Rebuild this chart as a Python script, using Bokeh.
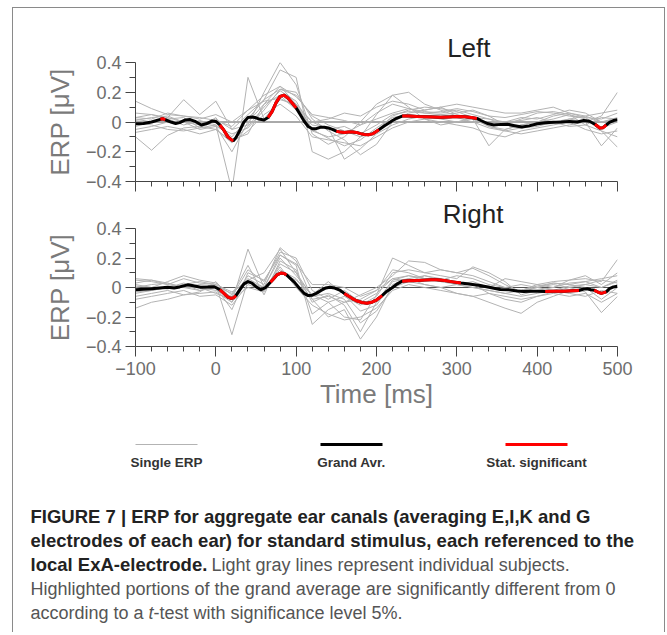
import numpy as np
from bokeh.plotting import figure
from bokeh.models import Range1d, Span, Title, FixedTicker
from bokeh.layouts import column
from bokeh.embed import file_html
from bokeh.resources import INLINE
from bokeh.core.properties import value

# ------------------------------------------------------------------ data
# time base of the single-subject ERPs (ms)
single_t = list(range(-100, 501, 20))

left_single = [
    [0.14, 0.09, 0.05, 0.04, 0.03, 0.01, -0.03, 0.08, 0.18, 0.24, 0.17, 0.05, 0.03, 0.01, -0.02, 0.06, 0.12, 0.09, 0.06, 0.07, 0.09, 0.07, 0.04, 0.03, 0.05, 0.07, 0.06, 0.04, 0.03, 0.02, 0.06],
    [-0.10, -0.19, -0.09, -0.04, -0.03, -0.05, -0.13, -0.03, 0.10, 0.21, 0.14, -0.05, -0.11, -0.16, -0.12, -0.04, 0.03, 0.05, 0.04, 0.02, 0.00, 0.02, -0.03, -0.05, -0.02, 0.00, 0.02, 0.05, 0.02, -0.06, -0.17],
    [0.03, 0.05, 0.02, -0.02, 0.01, -0.02, -0.46, 0.30, 0.02, 0.15, 0.12, 0.00, -0.05, -0.03, -0.08, -0.02, 0.05, 0.07, 0.06, 0.05, 0.06, 0.08, 0.04, -0.02, -0.04, -0.03, 0.00, 0.02, 0.04, 0.00, 0.02],
    [0.02, 0.00, 0.03, 0.15, 0.05, 0.14, -0.05, -0.02, 0.20, 0.40, 0.25, -0.08, -0.15, -0.10, 0.00, 0.12, 0.18, 0.10, 0.02, -0.02, 0.00, 0.03, 0.02, 0.00, 0.01, 0.03, 0.00, -0.03, -0.02, 0.03, 0.02],
    [0.00, -0.02, -0.05, -0.06, -0.04, -0.02, -0.10, 0.02, 0.15, 0.35, 0.30, -0.20, -0.25, -0.20, -0.10, 0.05, 0.18, 0.20, 0.12, 0.08, 0.04, 0.02, -0.02, 0.00, 0.03, 0.02, 0.05, 0.08, 0.06, 0.00, 0.03],
    [-0.05, -0.03, 0.00, 0.01, 0.00, -0.03, -0.08, -0.04, 0.08, 0.22, 0.20, 0.02, -0.06, -0.12, -0.22, -0.15, 0.00, 0.06, 0.08, 0.10, 0.05, 0.02, -0.16, -0.05, -0.02, 0.00, 0.04, 0.06, 0.03, -0.04, 0.00],
    [0.06, 0.05, 0.03, 0.00, -0.02, 0.02, -0.05, 0.05, 0.15, 0.22, 0.18, 0.04, -0.02, -0.06, -0.10, -0.06, 0.04, 0.08, 0.10, 0.09, 0.07, 0.03, -0.03, -0.06, -0.04, -0.02, -0.01, 0.02, 0.00, -0.16, -0.04],
    [-0.03, 0.00, 0.02, 0.03, -0.04, 0.03, -0.12, -0.08, 0.12, 0.18, 0.08, -0.02, -0.04, -0.25, -0.18, -0.08, -0.02, 0.02, 0.04, 0.05, 0.03, 0.00, -0.04, -0.06, -0.08, -0.06, -0.04, -0.02, 0.00, 0.04, 0.20],
    [0.01, 0.03, 0.04, 0.00, -0.05, -0.03, -0.20, 0.00, 0.12, 0.24, 0.12, -0.06, -0.10, -0.08, -0.02, 0.02, 0.06, 0.09, 0.07, 0.06, 0.08, 0.05, 0.02, -0.02, 0.02, 0.06, 0.07, 0.05, -0.02, -0.06, -0.10],
    [-0.07, -0.05, -0.03, -0.05, -0.08, -0.05, -0.14, -0.06, 0.05, 0.12, 0.04, -0.10, -0.12, -0.14, -0.16, -0.10, -0.04, 0.00, 0.02, 0.00, -0.02, -0.04, -0.08, -0.10, -0.06, -0.04, -0.02, 0.00, -0.05, -0.08, -0.06],
    [0.03, 0.02, 0.06, 0.04, 0.02, 0.05, 0.00, 0.08, 0.14, 0.16, 0.10, 0.00, 0.02, 0.06, 0.04, 0.10, 0.14, 0.12, 0.08, 0.10, 0.12, 0.10, 0.08, 0.06, 0.06, 0.08, 0.10, 0.06, 0.04, 0.06, 0.08],
]

right_single = [
    [0.05, 0.04, 0.02, 0.06, 0.03, 0.02, -0.32, 0.05, 0.10, 0.26, 0.10, -0.10, -0.05, -0.12, -0.30, -0.10, 0.05, 0.08, 0.06, 0.04, 0.02, 0.00, -0.02, -0.04, -0.02, 0.00, 0.03, 0.02, 0.00, -0.04, 0.02],
    [-0.14, -0.10, -0.08, -0.05, -0.04, -0.03, -0.10, 0.26, 0.00, 0.20, 0.08, -0.05, -0.10, -0.20, -0.22, -0.05, 0.20, 0.15, 0.10, 0.12, 0.10, 0.08, 0.04, 0.00, -0.02, 0.02, 0.04, 0.05, 0.06, 0.04, 0.19],
    [0.06, 0.05, 0.03, 0.00, -0.02, 0.00, -0.15, 0.10, 0.05, 0.22, 0.15, -0.25, -0.15, -0.10, -0.05, 0.00, 0.08, 0.18, 0.17, 0.12, 0.10, 0.13, 0.08, 0.02, -0.03, 0.00, 0.02, 0.00, -0.03, -0.17, -0.06],
    [-0.06, -0.04, -0.02, -0.05, -0.03, 0.04, -0.08, 0.08, 0.02, 0.27, 0.18, -0.08, -0.20, -0.15, -0.35, -0.20, 0.02, 0.06, 0.08, 0.05, 0.04, 0.02, -0.04, -0.08, -0.10, -0.06, -0.03, 0.00, 0.02, 0.05, 0.03],
    [0.02, 0.00, 0.04, 0.08, 0.05, 0.03, -0.05, 0.15, -0.05, 0.18, 0.12, -0.18, -0.10, -0.06, -0.12, -0.06, 0.10, 0.12, 0.10, 0.08, 0.06, 0.14, 0.10, 0.04, -0.05, -0.02, 0.00, 0.03, 0.04, 0.00, 0.04],
    [-0.03, -0.02, 0.00, 0.02, -0.02, 0.00, -0.10, 0.05, -0.02, 0.10, 0.05, -0.05, 0.04, -0.05, -0.16, -0.12, 0.04, 0.06, 0.02, 0.00, -0.04, -0.06, -0.10, -0.14, -0.175, -0.10, -0.06, -0.02, 0.00, -0.08, 0.00],
    [0.00, 0.02, 0.03, 0.00, 0.00, -0.02, -0.06, 0.12, 0.04, 0.24, 0.20, -0.02, -0.08, -0.02, -0.10, -0.04, 0.06, 0.04, 0.08, 0.06, 0.02, 0.04, 0.00, 0.06, 0.04, 0.02, 0.00, 0.05, 0.08, 0.02, 0.10],
    [-0.08, -0.06, -0.04, -0.02, -0.06, -0.05, -0.12, 0.02, -0.02, 0.14, 0.00, -0.12, -0.18, -0.22, -0.20, -0.14, -0.02, 0.02, 0.00, -0.02, -0.04, -0.06, -0.04, -0.06, -0.08, -0.06, -0.04, -0.06, -0.04, -0.10, -0.04],
    [0.03, 0.05, 0.02, 0.00, 0.02, 0.01, -0.04, 0.06, 0.00, 0.22, 0.16, 0.02, 0.02, 0.00, -0.06, -0.02, 0.12, 0.10, 0.06, 0.05, 0.08, 0.06, 0.02, 0.00, 0.02, 0.00, -0.02, 0.01, 0.02, 0.00, 0.05],
    [-0.04, -0.02, 0.00, 0.03, 0.00, -0.04, -0.08, 0.00, -0.03, 0.16, 0.10, -0.06, -0.04, -0.08, -0.24, -0.16, 0.00, 0.04, 0.02, 0.00, 0.02, 0.00, -0.02, -0.04, -0.06, -0.04, -0.02, -0.04, -0.06, -0.02, -0.04],
    [0.01, 0.00, -0.01, 0.02, 0.04, 0.02, -0.03, 0.04, 0.00, 0.12, 0.06, -0.08, -0.06, -0.10, -0.08, -0.02, 0.06, 0.08, 0.06, 0.04, 0.03, 0.02, 0.01, -0.02, -0.02, 0.01, 0.03, 0.02, 0.04, 0.06, 0.08],
]

# grand average, left ear
left_avg_t = [-100, -90, -80, -69, -66, -63, -55, -50, -45, -38, -32, -25, -18, -12, -5, 0,
              5, 10, 15, 20, 22, 25, 30, 35, 40, 45, 50, 55, 60, 65, 70, 75, 80, 85, 90, 95,
              100, 105, 110, 115, 120, 125, 130, 135, 140, 145, 150, 155, 160, 165, 170, 175,
              180, 185, 190, 195, 203, 210, 215, 220, 225, 232, 240, 250, 260, 270, 280, 290,
              300, 310, 318, 325, 330, 338, 346, 355, 363, 372, 381, 390, 400, 410, 420, 430,
              440, 450, 458, 465, 472, 478, 482, 486, 490, 495, 500]
left_avg_v = [-0.012, -0.010, 0.000, 0.018, 0.022, 0.015, -0.002, -0.010, -0.004, 0.014, 0.016,
              0.002, -0.020, -0.012, 0.006, 0.004,
              -0.020, -0.055, -0.100, -0.122, -0.124, -0.105, -0.055, 0.000, 0.030, 0.034, 0.028,
              0.018, 0.014, 0.030, 0.070, 0.130, 0.172, 0.180, 0.160, 0.128,
              0.095, 0.050, 0.005, -0.030, -0.045, -0.045, -0.036, -0.035, -0.040, -0.050, -0.062,
              -0.068, -0.070, -0.068, -0.068, -0.070,
              -0.078, -0.084, -0.086, -0.080, -0.052, -0.025, -0.008, 0.010, 0.025, 0.040, 0.040,
              0.037, 0.036, 0.034, 0.032, 0.034,
              0.037, 0.035, 0.030, 0.024, 0.010, -0.010, -0.020, -0.016, -0.015, -0.025, -0.034,
              -0.026, -0.012, -0.005, -0.002, 0.000,
              0.004, 0.000, 0.010, 0.005, -0.015, -0.040, -0.038, -0.020, -0.002, 0.010, 0.016]
left_sig_start = [-69, 5, 65, 150, 232, 472]
left_sig_end = [-63, 22, 100, 203, 325, 486]

# grand average, right ear
right_avg_t = [-100, -90, -80, -70, -60, -52, -45, -35, -28, -19, -10, -2, 5, 10, 15, 19, 22, 25,
               30, 35, 40, 45, 50, 56, 62, 68, 72, 76, 81, 85, 88, 92, 98, 104, 110, 115, 120,
               125, 131, 137, 142, 148, 155, 160, 165, 170, 175, 182, 188, 195, 200, 207, 213,
               220, 226, 232, 240, 251, 260, 268, 275, 285, 295, 305, 315, 329, 340, 354, 365,
               375, 383, 392, 400, 410, 420, 433, 445, 452, 458, 462, 467, 471, 476, 480, 486,
               490, 495, 500]
right_avg_v = [-0.016, -0.012, -0.008, -0.003, 0.002, -0.004, 0.004, 0.018, 0.012, 0.002, 0.003,
               0.005, -0.015, -0.040, -0.065, -0.074, -0.070, -0.055,
               -0.015, 0.025, 0.040, 0.030, 0.005, -0.016, 0.000, 0.035, 0.060, 0.085, 0.098, 0.095,
               0.085, 0.065, 0.035, -0.005, -0.040, -0.055, -0.052,
               -0.040, -0.020, -0.003, 0.002, -0.004, -0.020, -0.040, -0.058, -0.075, -0.090, -0.102,
               -0.107, -0.098, -0.085, -0.055, -0.025,
               0.000, 0.025, 0.043, 0.046, 0.048, 0.050, 0.052, 0.052, 0.047, 0.038, 0.030, 0.024,
               0.014, 0.002, -0.014, -0.016,
               -0.024, -0.027, -0.025, -0.025, -0.027, -0.026, -0.025, -0.022, -0.020, -0.010, -0.009,
               -0.015, -0.018, -0.032, -0.040, -0.030,
               -0.008, 0.004, 0.009]
right_sig_start = [5, 68, 160, 232, 410, 471]
right_sig_end = [25, 88, 207, 305, 452, 486]

x_ticks = [-100, 0, 100, 200, 300, 400, 500]
x_tick_labels = ["\u2212100", "0", "100", "200", "300", "400", "500"]
x_minor_ticks = [-80, -60, -40, -20, 20, 40, 60, 80, 120, 140, 160, 180, 220, 240, 260, 280,
                 320, 340, 360, 380, 420, 440, 460, 480]
y_ticks = [-0.4, -0.2, 0, 0.2, 0.4]
y_tick_labels = ["\u22120.4", "\u22120.2", "0", "0.2", "0.4"]
y_minor_ticks = [-0.3, -0.1, 0.1, 0.3]

panel_titles = ["Left", "Right"]
legend_labels = ["Single ERP", "Grand Avr.", "Stat. significant"]
legend_colors = ["#b3b3b3", "#000000", "#ff0000"]
legend_widths = [1, 3, 3]

caption_bold_1 = "FIGURE 7 | ERP for aggregate ear canals (averaging E,I,K and G"
caption_bold_2 = "electrodes of each ear) for standard stimulus, each referenced to the"
caption_bold_3 = "local ExA-electrode."
caption_reg_3 = "Light gray lines represent individual subjects."
caption_reg_4 = "Highlighted portions of the grand average are significantly different from 0"
caption_reg_5a = "according to a"
caption_ital_5 = "t"
caption_reg_5b = "-test with significance level 5%."

# ------------------------------------------------------------------ style
FONT = "Liberation Sans"
AXIS_COL = "#444444"
TICKLAB_COL = "#6e6e6e"
LABEL_COL = "#7a7a7a"
GRAY = legend_colors[0]
RED = legend_colors[2]


def panel(title, title_offset, singles, avg_t, avg_v, sig_s, sig_e, fh, b_top, b_bottom, show_x):
    p = figure(frame_width=482, frame_height=fh,
               x_range=Range1d(-100, 500), y_range=Range1d(-0.4, 0.4),
               output_backend="svg", toolbar_location=None,
               min_border_left=122, min_border_right=47,
               min_border_top=b_top, min_border_bottom=b_bottom,
               background_fill_color="white", border_fill_color="white")
    p.outline_line_color = None
    p.xgrid.visible = False
    p.ygrid.visible = False

    p.add_layout(Span(location=0, dimension="width", line_color="#555555",
                      line_width=1, level="underlay"))
    p.multi_line([single_t] * len(singles), singles, line_color=GRAY, line_width=1)
    p.line(avg_t, avg_v, line_color="black", line_width=3, line_join="round")
    t = np.array(avg_t)
    v = np.array(avg_v)
    for s, e in zip(sig_s, sig_e):
        m = (t >= s) & (t <= e)
        p.line(t[m], v[m], line_color=RED, line_width=3, line_join="round")

    xa = p.xaxis[0]
    ya = p.yaxis[0]
    xa.ticker = FixedTicker(ticks=x_ticks, minor_ticks=x_minor_ticks)
    ya.ticker = FixedTicker(ticks=y_ticks, minor_ticks=y_minor_ticks)
    ya.major_label_overrides = {k: l for k, l in zip(y_ticks, y_tick_labels)}
    for ax in (xa, ya):
        ax.axis_line_color = AXIS_COL
        ax.major_tick_line_color = AXIS_COL
        ax.minor_tick_line_color = AXIS_COL
        ax.major_tick_in = 0
        ax.minor_tick_in = 0
        ax.major_tick_out = 10
        ax.major_label_text_font = FONT
        ax.major_label_text_font_size = "18px"
        ax.major_label_text_color = TICKLAB_COL
        ax.axis_label_text_font = FONT
        ax.axis_label_text_font_size = "26px"
        ax.axis_label_text_font_style = "normal"
        ax.axis_label_text_color = LABEL_COL
    xa.minor_tick_out = 5
    ya.minor_tick_out = 6
    ya.major_label_standoff = 4
    ya.axis_label = "ERP [\u03bcV]"
    ya.axis_label_standoff = 8
    if show_x:
        xa.major_label_overrides = {k: l for k, l in zip(x_ticks, x_tick_labels)}
        xa.major_label_standoff = 5
        xa.axis_label = "Time [ms]"
        xa.axis_label_standoff = 1
    else:
        xa.major_label_overrides = {k: "" for k in x_ticks}
        xa.major_label_text_font_size = "0px"
        xa.major_label_standoff = 0

    p.add_layout(Title(text=title, align="right", offset=title_offset,
                       text_font=FONT, text_font_size="26px", text_font_style="normal",
                       text_color="#222222", standoff=0), "above")
    return p


top = panel(panel_titles[0], 127, left_single, left_avg_t, left_avg_v,
            left_sig_start, left_sig_end, 119, 54, 14, False)
bot = panel(panel_titles[1], 114, right_single, right_avg_t, right_avg_v,
            right_sig_start, right_sig_end, 118, 33, 70, True)

# ------------------------------------------------------------------ legend + caption
CAP_Y0 = 416
CAP_H = 216
cap = figure(width=651, height=CAP_H, x_range=Range1d(13, 664),
             y_range=Range1d(CAP_Y0 + CAP_H, CAP_Y0),
             output_backend="svg", toolbar_location=None,
             min_border_left=0, min_border_right=0, min_border_top=0, min_border_bottom=0,
             x_axis_location=None, y_axis_location=None,
             background_fill_color="white", border_fill_color="white")
cap.outline_line_color = None
cap.xgrid.visible = False
cap.ygrid.visible = False

leg_x0 = [135, 320, 505]
leg_x1 = [197, 382, 567]
leg_xc = [166, 351, 536]
cap.segment(x0=leg_x0, y0=[444] * 3, x1=leg_x1, y1=[444] * 3,
            line_color=legend_colors, line_width=legend_widths)
cap.text(x=leg_xc, y=[462] * 3, text=legend_labels, text_align="center",
         text_baseline="middle", text_font=value(FONT), text_font_style="bold",
         text_font_size="13.5px", text_color="#333333")

BOLD_SIZE = "18.5px"
REG_SIZE = "18px"
BOLD_COL = "#222222"
REG_COL = "#555555"
cap.text(x=[30, 30, 30], y=[516, 540, 564],
         text=[caption_bold_1, caption_bold_2, caption_bold_3],
         text_align="left", text_baseline="middle", text_font=value(FONT),
         text_font_style="bold", text_font_size=BOLD_SIZE, text_color=BOLD_COL)
cap.text(x=[211, 30, 30, 153], y=[564, 588, 612, 612],
         text=[caption_reg_3, caption_reg_4, caption_reg_5a, caption_reg_5b],
         text_align="left", text_baseline="middle", text_font=value(FONT),
         text_font_style="normal", text_font_size=REG_SIZE, text_color=REG_COL)
cap.text(x=[148], y=[612], text=[caption_ital_5],
         text_align="left", text_baseline="middle", text_font=value(FONT),
         text_font_style="italic", text_font_size=REG_SIZE, text_color=REG_COL)

BORDER = "1px solid #8a8a8a"
panels = column(top, bot, spacing=0)
layout = column(panels, cap, spacing=0, margin=(7, 0, 0, 12),
                styles={"border-top": BORDER, "border-left": BORDER, "border-right": BORDER})

open("out.html", "w").write(file_html(layout, INLINE))
